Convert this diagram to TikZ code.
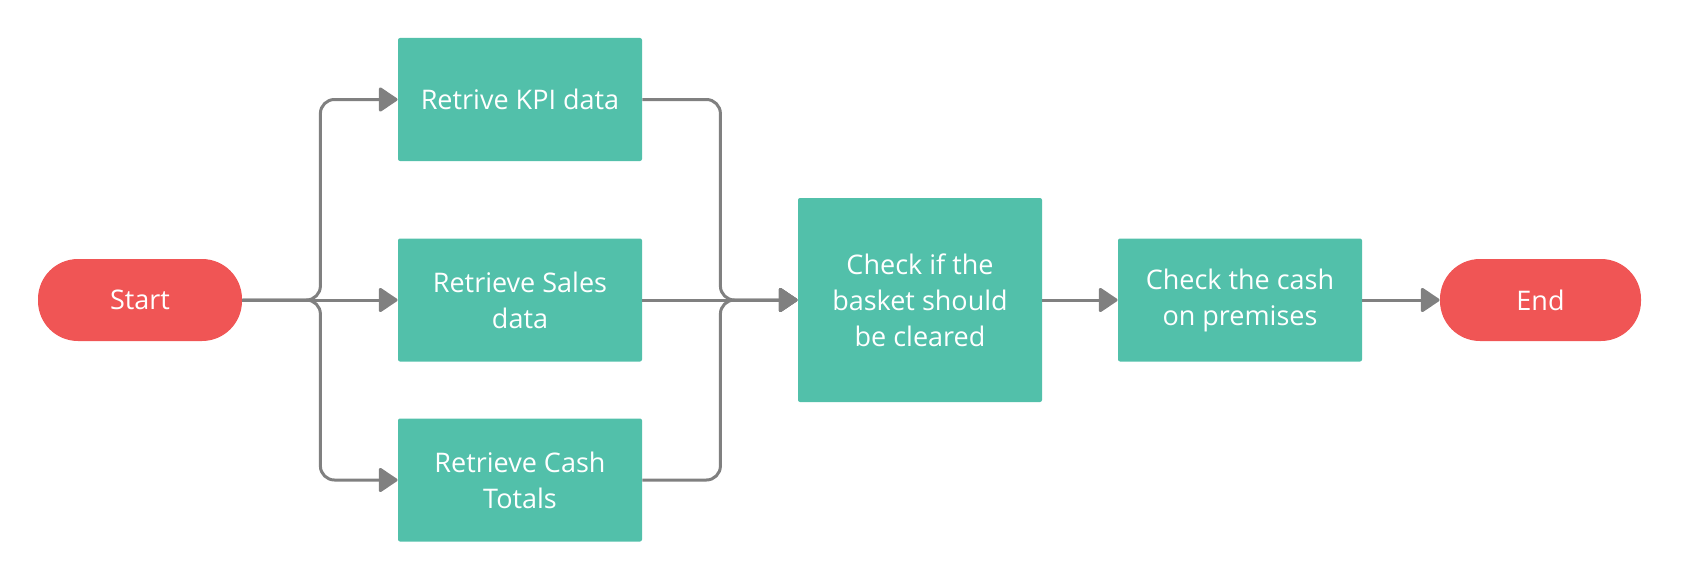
\documentclass[tikz,border=0pt]{standalone}
\usepackage{fontspec}
\setmainfont{Open Sans}
\usetikzlibrary{arrows.meta, positioning}
\definecolor{stepteal}{HTML}{52C0AA}
\definecolor{termred}{HTML}{F05555}
\definecolor{flowgray}{HTML}{808080}

\begin{document}
\begin{tikzpicture}[
    on grid,
    every node/.style={text=white, font=\fontsize{13.5}{18}\selectfont, align=center},
    terminal/.style={fill=termred, rounded corners=20pt, minimum height=41pt},
    task/.style={fill=stepteal, rounded corners=1pt, minimum width=122pt, minimum height=61.5pt},
    flow/.style={draw=flowgray, line width=1.5pt, rounded corners=7pt,
                 -{Triangle[length=10pt, width=13pt, round]}}
]
   \useasboundingbox (0,0) rectangle (840.5pt,290pt);

   % Start / End
   \node[terminal, minimum width=102pt] (start) at (70pt,140pt) {Start};

   % parallel retrievals
   \node[task] (sales) [right=190pt of start] {Retrieve Sales\\data};
   \node[task] (kpi)   [above=100.25pt of sales] {Retrive KPI data};
   \node[task] (cash)  [below=90pt of sales] {Retrieve Cash\\Totals};

   % checks
   \node[task, minimum height=102pt] (basket) [right=200pt of sales] {Check if the\\basket should\\be cleared};
   \node[task] (premises) [right=160pt of basket] {Check the cash\\on premises};
   \node[terminal, minimum width=100.5pt] (end) [right=150.25pt of premises] {End};

   % fork and join points
   \coordinate[right=39pt of start.east] (split);
   \coordinate[right=39pt of sales.east] (join);

   % fork
   \draw[flow] (start.east) -- (split) |- (kpi.west);
   \draw[flow] (start.east) -- (sales.west);
   \draw[flow] (start.east) -- (split) |- (cash.west);

   % join
   \draw[flow] (kpi.east) -| (join) -- (basket.west);
   \draw[flow] (sales.east) -- (basket.west);
   \draw[flow] (cash.east) -| (join) -- (basket.west);

   % to the end
   \draw[flow] (basket.east) -- (premises.west);
   \draw[flow] (premises.east) -- (end.west);

\end{tikzpicture}
\end{document}
